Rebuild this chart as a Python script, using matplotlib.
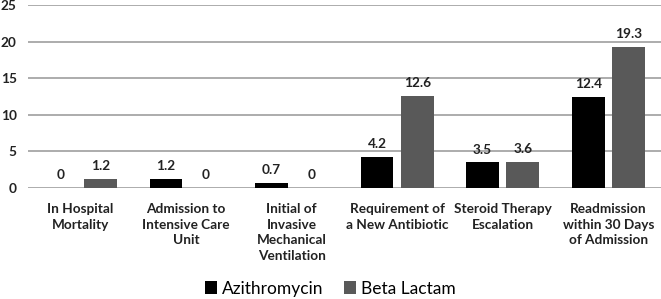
import matplotlib
matplotlib.use("Agg")
import matplotlib.pyplot as plt
import numpy as np

categories = ["In Hospital\nMortality", "Admission to\nIntensive Care\nUnit",
              "Initial of\nInvasive\nMechanical\nVentilation",
              "Requirement of\na New Antibiotic", "Steroid Therapy\nEscalation",
              "Readmission\nwithin 30 Days\nof Admission"]
azithromycin = [0, 1.2, 0.7, 4.2, 3.5, 12.4]
beta_lactam = [1.2, 0, 0, 12.6, 3.6, 19.3]
yticks = [0, 5, 10, 15, 20, 25]

plt.rcParams['font.family'] = ['Lato', 'DejaVu Sans']
fig = plt.figure(figsize=(6.61, 2.99), dpi=100)
ax = fig.add_axes([0.042, 0.371, 0.958, 0.612])

x = np.arange(len(categories))
w = 0.31
off = 0.19
b1 = ax.bar(x - off, azithromycin, w, color="#000000", label="Azithromycin", zorder=3)
b2 = ax.bar(x + off, beta_lactam, w, color="#595959", label="Beta Lactam", zorder=3)

for bars, vals in ((b1, azithromycin), (b2, beta_lactam)):
    for r, v in zip(bars, vals):
        ax.annotate(f"{v:g}", (r.get_x() + r.get_width() / 2, v), xytext=(0, 5),
                    textcoords="offset points", ha="center", va="bottom",
                    fontsize=9.8, fontweight="bold", color="#222222")

ax.set_xlim(-0.5, len(categories) - 0.5)
ax.set_ylim(0, 25)
ax.set_yticks(yticks)
ax.set_yticklabels([str(t) for t in yticks], fontsize=9.8, fontweight="bold", color="#222222")
ax.set_xticks(x)
ax.set_xticklabels(categories, fontsize=9.8, fontweight="bold", color="#222222", linespacing=1.35)
ax.tick_params(axis="both", length=0)
ax.tick_params(axis="x", pad=11)
ax.tick_params(axis="y", pad=8)
for s in ax.spines.values():
    s.set_visible(False)
ax.grid(axis="y", color="#a6a6a6", linewidth=1.3, zorder=0)
ax.set_axisbelow(True)

fig.legend(handles=[b1, b2], loc="center", bbox_to_anchor=(0.5, 0.035), ncol=2,
           frameon=False, prop={"size": 12.5}, handlelength=0.65,
           handleheight=0.7, handletextpad=0.3, columnspacing=1.2, borderpad=0)

fig.savefig("out.png", dpi=100)
